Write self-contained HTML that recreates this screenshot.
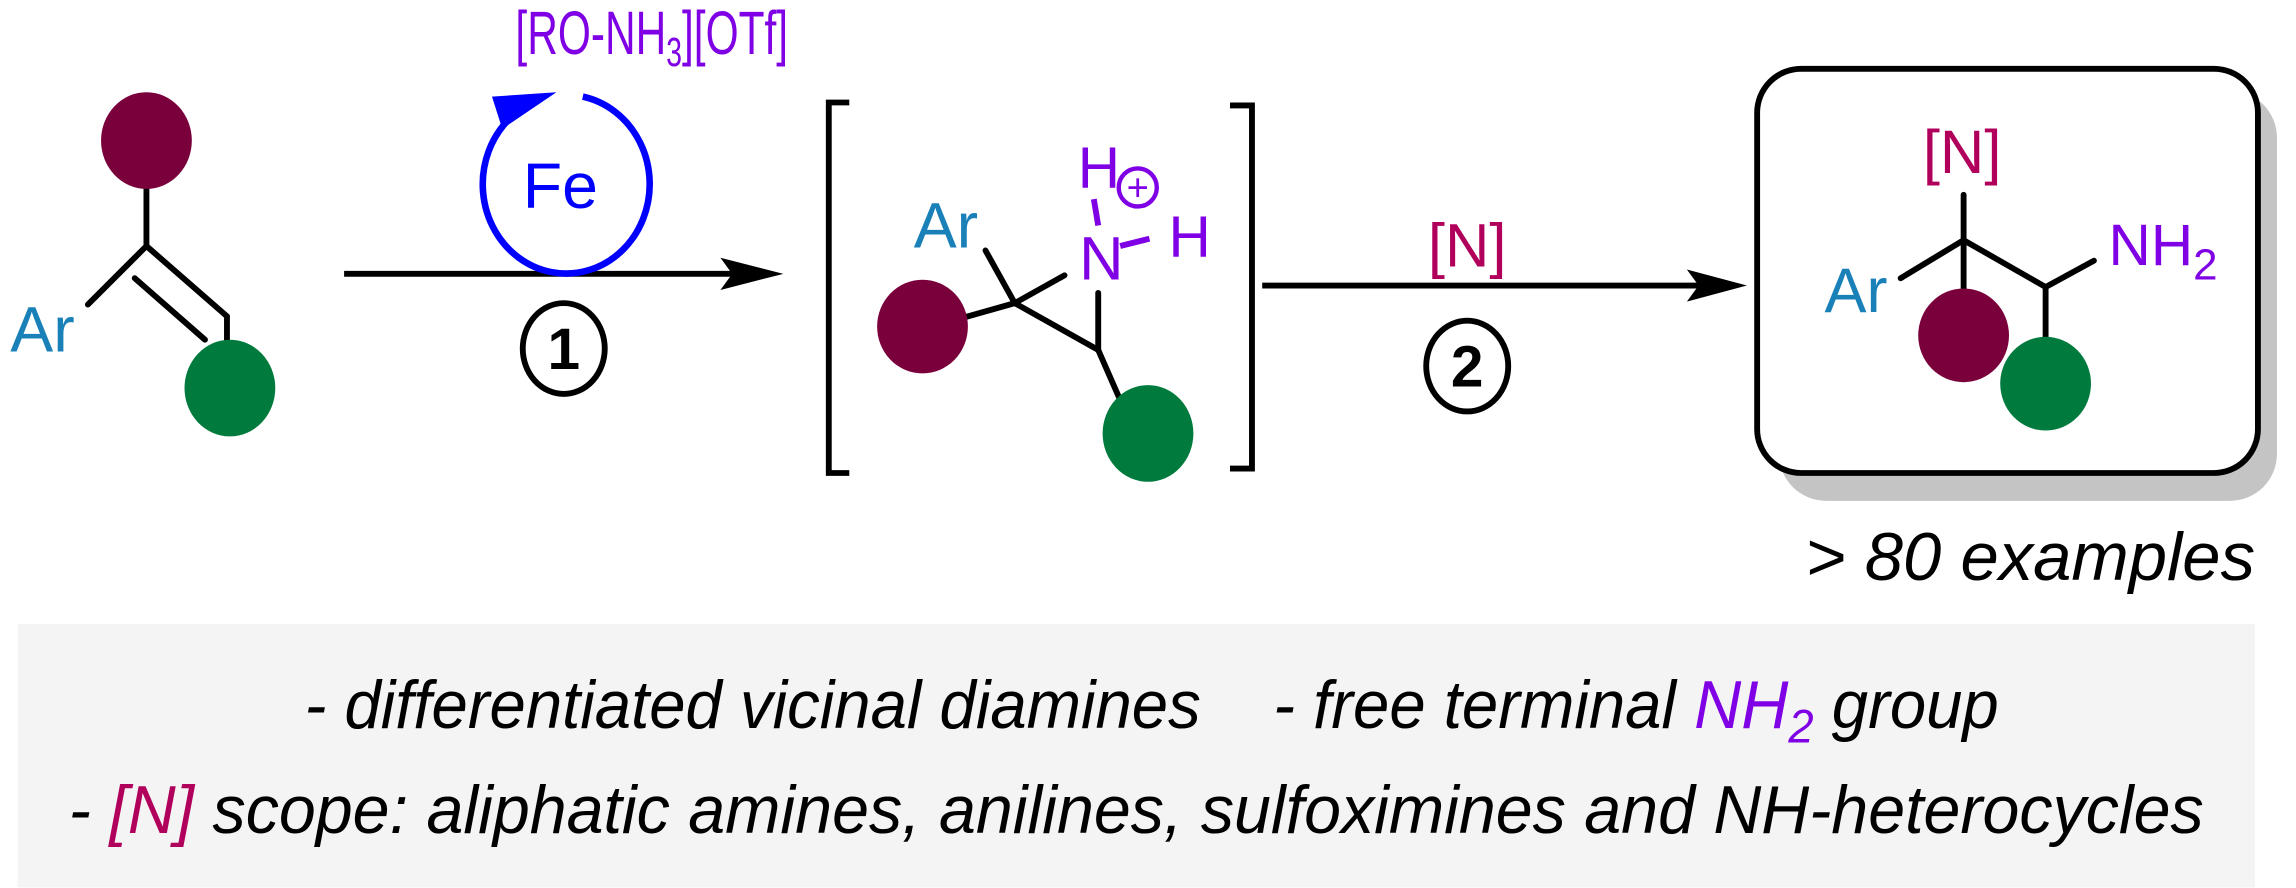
<!DOCTYPE html>
<html><head><meta charset="utf-8"><style>html,body{margin:0;padding:0;background:#fff}svg{display:block}</style></head>
<body>
<svg width="2296" height="888" viewBox="0 0 1568 606.4" preserveAspectRatio="none" xmlns="http://www.w3.org/2000/svg" font-family="Liberation Sans, sans-serif">
<g stroke="#000" stroke-width="4" fill="none" stroke-linecap="round">
<!-- alkene -->
<line x1="100" y1="125" x2="100" y2="168"/>
<line x1="100" y1="168" x2="60" y2="208"/>
<line x1="100" y1="168" x2="155" y2="216"/>
<line x1="92" y1="190" x2="140" y2="232"/>
<line x1="155" y1="216" x2="155" y2="262"/>
<!-- aziridine -->
<line x1="673" y1="171" x2="693" y2="207"/>
<line x1="693" y1="207" x2="727" y2="188"/>
<line x1="693" y1="207" x2="750" y2="239"/>
<line x1="750" y1="239" x2="750" y2="200"/>
<line x1="750" y1="239" x2="768" y2="280"/>
<line x1="693" y1="207" x2="640" y2="222"/>
</g>
<!-- brackets -->
<path d="M580,70 H566 V323 H580" stroke="#000" stroke-width="4" fill="none"/>
<path d="M840,72 H855 V320 H840" stroke="#000" stroke-width="4" fill="none"/>
<!-- arrows -->
<line x1="235" y1="187" x2="500" y2="187" stroke="#000" stroke-width="4"/>
<path d="M492,176 L535,187 L492,198 L500,187 z" fill="#000"/>
<line x1="862" y1="195" x2="1160" y2="195" stroke="#000" stroke-width="4"/>
<path d="M1152,184 L1193,195 L1152,206 L1160,195 z" fill="#000"/>
<!-- Fe cycle -->
<path d="M398,66 A57,61 0 1 1 347,82" stroke="#0000ff" stroke-width="4.5" fill="none"/>
<path d="M380,63 L336,66 L343,88 z" fill="#0000ff"/>
<!-- circled numbers -->
<ellipse cx="385" cy="238" rx="28" ry="31" stroke="#000" stroke-width="4" fill="none"/>
<text x="385" y="252" font-size="40" text-anchor="middle" font-weight="bold">1</text>
<ellipse cx="1002" cy="250" rx="28" ry="31" stroke="#000" stroke-width="4" fill="none"/>
<text x="1002" y="264" font-size="40" text-anchor="middle" font-weight="bold">2</text>
<!-- product box -->
<rect x="1215" y="62" width="340" height="280" rx="32" fill="#c4c4c4"/>
<rect x="1200" y="47" width="342" height="276" rx="30" fill="#fff" stroke="#000" stroke-width="4"/>
<g stroke="#000" stroke-width="4" fill="none" stroke-linecap="round">
<line x1="1341" y1="133" x2="1341" y2="205"/>
<line x1="1341" y1="164" x2="1298" y2="190"/>
<line x1="1341" y1="164" x2="1397" y2="196"/>
<line x1="1397" y1="196" x2="1430" y2="178"/>
<line x1="1397" y1="196" x2="1397" y2="240"/>
</g>
<!-- balls -->
<ellipse cx="100" cy="96" rx="31" ry="33" fill="#7a003c"/>
<ellipse cx="157" cy="265" rx="31" ry="33" fill="#007a3d"/>
<ellipse cx="630" cy="223" rx="31" ry="32" fill="#7a003c"/>
<ellipse cx="784" cy="296" rx="31" ry="33" fill="#007a3d"/>
<ellipse cx="1341" cy="229" rx="31" ry="32" fill="#7a003c"/>
<ellipse cx="1397" cy="262" rx="31" ry="32" fill="#007a3d"/>
<!-- text -->
<text x="7" y="240" font-size="44" fill="#1a80b8">Ar</text>
<g transform="translate(352,37) scale(0.69,1)"><text x="0" y="0" font-size="42" fill="#8000e6">[RO-NH<tspan font-size="28" dy="8">3</tspan><tspan dy="-8">][OTf]</tspan></text></g>
<text x="357" y="142" font-size="44" fill="#0000ff">Fe</text>
<text x="624" y="169" font-size="44" fill="#1a80b8">Ar</text>
<text x="737" y="191" font-size="42" fill="#8000e6">N</text>
<text x="736" y="128" font-size="40" fill="#8000e6">H</text>
<text x="798" y="175" font-size="40" fill="#8000e6">H</text>
<line x1="747" y1="136" x2="750" y2="154" stroke="#8000e6" stroke-width="4"/>
<line x1="765" y1="168" x2="785" y2="163" stroke="#8000e6" stroke-width="4"/>
<circle cx="777" cy="128" r="13" stroke="#8000e6" stroke-width="3" fill="none"/>
<text x="777" y="137" font-size="26" fill="#8000e6" text-anchor="middle">+</text>
<text x="1002" y="182" font-size="42" fill="#b0005c" text-anchor="middle">[N]</text>
<text x="1340" y="118" font-size="42" fill="#b0005c" text-anchor="middle">[N]</text>
<text x="1246" y="213" font-size="43" fill="#1a80b8">Ar</text>
<text x="1440" y="181" font-size="40" fill="#8000e6">NH<tspan font-size="30" dy="10">2</tspan></text>
<text x="1233" y="396" font-size="46" font-style="italic" textLength="307" lengthAdjust="spacingAndGlyphs">&gt; 80 examples</text>
<!-- bottom box -->
<rect x="12" y="426" width="1528" height="180" fill="#f4f4f4"/>
<text x="208" y="497" font-size="46" font-style="italic" textLength="1157" lengthAdjust="spacingAndGlyphs">- differentiated vicinal diamines&#160;&#160;&#160; - free terminal <tspan fill="#8000e6">NH<tspan font-size="32" dy="10">2</tspan></tspan><tspan dy="-10"> group</tspan></text>
<text x="47" y="569" font-size="46" font-style="italic" textLength="1458" lengthAdjust="spacingAndGlyphs">- <tspan fill="#b0005c">[N]</tspan> scope: aliphatic amines, anilines, sulfoximines and NH-heterocycles</text>
</svg>
</body></html>
